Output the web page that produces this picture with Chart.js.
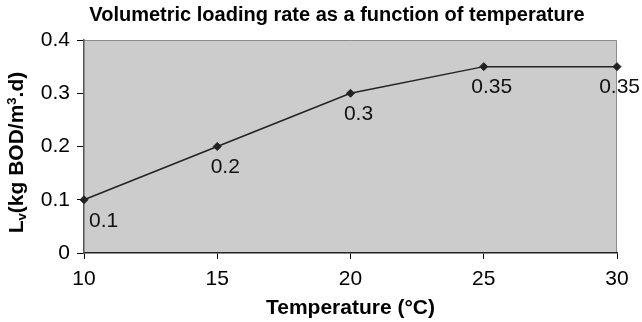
<!DOCTYPE html>
<html>
<head>
<meta charset="utf-8">
<script src="https://cdn.jsdelivr.net/npm/chart.js@4/dist/chart.umd.min.js"></script>
<style>
  html, body { margin: 0; padding: 0; background: #fff; }
  #wrap { width: 642px; height: 322px; }
</style>
</head>
<body>
<div id="wrap"><canvas id="c" width="642" height="322"></canvas></div>
<script>
const temperatures = [10, 15, 20, 25, 30];
const loadingRates = [0.1, 0.2, 0.3, 0.35, 0.35];
const dataLabels = ['0.1', '0.2', '0.3', '0.35', '0.35'];
const chartTitle = 'Volumetric loading rate as a function of temperature';
const xTitle = 'Temperature (\u00B0C)';
const yTitleParts = [
  { text: 'L', kind: 'normal' },
  { text: 'v', kind: 'sub' },
  { text: '(kg BOD/m', kind: 'normal' },
  { text: '3', kind: 'sup' },
  { text: '.d)', kind: 'normal' }
];

const FONT = '"Liberation Sans", Arial, Helvetica, sans-serif';

const plotBg = {
  id: 'plotBg',
  beforeDraw(chart) {
    const { ctx, chartArea: a } = chart;
    ctx.save();
    ctx.fillStyle = '#cccccc';
    ctx.fillRect(a.left, a.top, a.right - a.left, a.bottom - a.top);
    ctx.strokeStyle = '#8c8c8c';
    ctx.lineWidth = 1;
    ctx.beginPath();
    ctx.moveTo(a.left, a.top + 0.5);
    ctx.lineTo(a.right - 0.5, a.top + 0.5);
    ctx.lineTo(a.right - 0.5, a.bottom);
    ctx.stroke();
    ctx.restore();
  }
};

const titlePlugin = {
  id: 'titlePlugin',
  afterDraw(chart) {
    const { ctx } = chart;
    ctx.save();
    ctx.font = 'bold 20px ' + FONT;
    ctx.fillStyle = '#000';
    ctx.textAlign = 'center';
    ctx.textBaseline = 'middle';
    ctx.fillText(chartTitle, 337, 15);
    ctx.restore();
  }
};

const yTitlePlugin = {
  id: 'yTitlePlugin',
  afterDraw(chart) {
    const { ctx, chartArea: a } = chart;
    const big = 'bold 21px ' + FONT;
    const small = 'bold 13px ' + FONT;
    ctx.save();
    let total = 0;
    yTitleParts.forEach(p => {
      ctx.font = p.kind === 'normal' ? big : small;
      p.w = ctx.measureText(p.text).width;
      total += p.w;
    });
    const cy = (a.top + a.bottom) / 2 + 6;
    ctx.translate(17, cy);
    ctx.rotate(-Math.PI / 2);
    ctx.fillStyle = '#000';
    ctx.textBaseline = 'middle';
    ctx.textAlign = 'left';
    let x = -total / 2;
    yTitleParts.forEach(p => {
      ctx.font = p.kind === 'normal' ? big : small;
      let dy = 0;
      if (p.kind === 'sub') dy = 5;
      if (p.kind === 'sup') dy = -5;
      ctx.fillText(p.text, x, dy);
      x += p.w;
    });
    ctx.restore();
  }
};

const valueLabels = {
  id: 'valueLabels',
  afterDatasetsDraw(chart) {
    const { ctx, chartArea: a } = chart;
    const meta = chart.getDatasetMeta(0);
    ctx.save();
    ctx.font = '21px ' + FONT;
    ctx.fillStyle = '#111';
    ctx.textAlign = 'center';
    ctx.textBaseline = 'middle';
    meta.data.forEach((pt, i) => {
      const txt = dataLabels[i];
      const w = ctx.measureText(txt).width;
      let cx = pt.x + 8;
      if (cx - w / 2 < a.left + 5) cx = a.left + 5 + w / 2;
      if (cx + w / 2 > chart.width - 2) cx = chart.width - 2 - w / 2;
      ctx.fillText(txt, cx, pt.y + 21);
    });
    ctx.restore();
  }
};

new Chart(document.getElementById('c'), {
  type: 'line',
  data: {
    datasets: [{
      data: temperatures.map((t, i) => ({ x: t, y: loadingRates[i] })),
      borderColor: '#222',
      borderWidth: 1.5,
      pointStyle: 'rectRot',
      pointRadius: 4,
      pointBackgroundColor: '#222',
      pointBorderColor: '#222',
      pointBorderWidth: 1,
      tension: 0,
      fill: false,
      clip: false
    }]
  },
  options: {
    responsive: false,
    animation: false,
    events: [],
    layout: { padding: { top: 40, right: 25, left: 0, bottom: 0 } },
    plugins: {
      legend: { display: false },
      tooltip: { enabled: false },
      title: { display: false }
    },
    scales: {
      x: {
        type: 'linear',
        min: 10,
        max: 30,
        ticks: {
          stepSize: 5,
          color: '#000',
          padding: 8,
          font: { family: FONT, size: 21 }
        },
        grid: { drawOnChartArea: false, drawTicks: true, tickLength: 6, color: '#000' },
        border: { display: true, color: '#222', width: 1.5 },
        title: {
          display: true,
          text: xTitle,
          color: '#000',
          font: { family: FONT, size: 21, weight: 'bold' },
          padding: { top: 0, bottom: 1 }
        },
        afterFit(scale) { scale.height = 69; }
      },
      y: {
        min: 0,
        max: 0.4,
        ticks: {
          stepSize: 0.1,
          color: '#000',
          padding: 7,
          font: { family: FONT, size: 21 }
        },
        grid: { drawOnChartArea: false, drawTicks: true, tickLength: 7, color: '#000' },
        border: { display: true, color: '#555', width: 1.5 },
        afterFit(scale) { scale.width = 84; }
      }
    }
  },
  plugins: [plotBg, titlePlugin, yTitlePlugin, valueLabels]
});
</script>
</body>
</html>
